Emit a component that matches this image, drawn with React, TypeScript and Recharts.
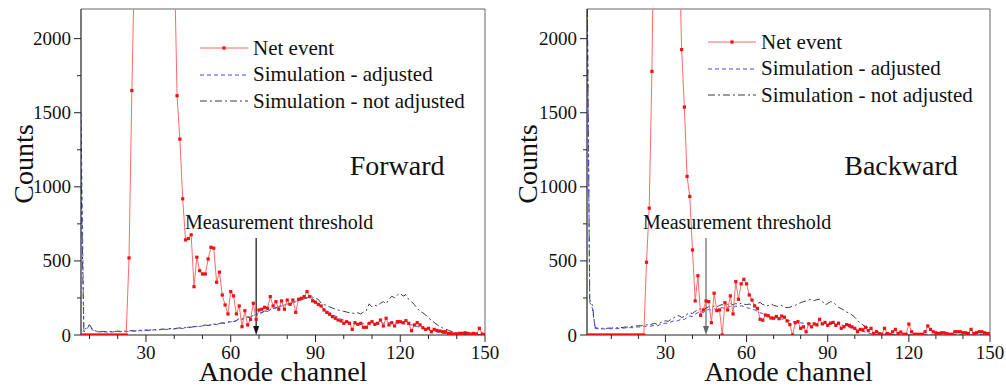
import React from "react";
import {
  LineChart,
  Line,
  XAxis,
  YAxis,
  ReferenceLine,
  ReferenceDot,
  Legend,
  Label,
} from "recharts";

// channel numbers of the first value in each array
const FWD_START = 7;
const BWD_START = 1;

// Forward panel, ch 7..150
const fwdNet = [
  0, 0, 0, 0, 0, 0, 0, 0, 0, 0, 0, 0, 0, 0, 0, 0, 0,
  520, 1650, 2570, 3500, 4300, 4800, 5000, 5000, 4800, 4500, 4100, 3700, 3300, 3000, 2800, 2700, 2590,
  1615, 1322, 919, 642, 651, 676, 326, 525, 434, 412, 412, 513, 592, 586, 356, 424, 270, 203, 142,
  293, 264, 142, 196, 56, 164, 68, 106, 214, 106, 169, 174, 187, 180, 259, 196, 225,
  174, 230, 174, 236, 207, 236, 153, 241, 248, 259, 293, 259, 230, 221, 207, 196, 169, 153, 140, 124,
  113, 101, 95, 79, 90, 79, 38, 83, 72, 79, 52, 52, 79, 90, 72, 79, 101, 61, 113, 68,
  83, 61, 90, 90, 83, 97, 79, 29, 68, 83, 68, 49, 38, 45, 22, 38, 31, 27, 22, 22,
  11, 11, 7, 7, 11, 11, 15, 11, 7, 11, 7, 45, 7, 3,
];
const fwdSimAdj = [
  1500, 20, 40, 65, 35, 25, 22, 20, 22, 20,
  22, 20, 22, 24, 22, 25, 24, 26, 28, 25,
  28, 30, 28, 32, 30, 33, 35, 33, 36, 38,
  36, 40, 42, 40, 44, 46, 44, 48, 52, 50,
  55, 58, 56, 62, 65, 63, 68, 72, 70, 76,
  80, 78, 85, 90, 88, 96, 110, 105, 115, 120,
  118, 130, 140, 145, 150, 160, 158, 170, 178, 182,
  190, 196, 200, 210, 206, 218, 224, 230, 236, 242,
  250, 258, 245, 225, 200, 190, 178, 165, 150, 138,
  128, 118, 108, 100, 92, 86, 80, 76, 74, 72,
  76, 74, 78, 80, 78, 82, 84, 80, 82, 84,
  80, 82, 78, 80, 76, 74, 70, 68, 62, 58,
  52, 46, 40, 34, 28, 24, 20, 16, 12, 10,
  8, 6, 5, 4, 3, 3, 2, 2, 2, 1,
  1, 1, 1, 0,
];
const fwdSimNot = [
  1100, 30, 50, 70, 40, 28, 24, 22, 24, 22,
  24, 22, 24, 26, 24, 27, 26, 28, 30, 27,
  30, 32, 30, 34, 32, 35, 37, 35, 38, 40,
  38, 42, 44, 42, 46, 48, 46, 50, 54, 52,
  57, 60, 58, 64, 67, 65, 70, 74, 72, 78,
  82, 80, 87, 92, 90, 98, 112, 107, 117, 122,
  120, 132, 142, 147, 152, 162, 160, 172, 180, 184,
  192, 198, 202, 212, 208, 220, 226, 232, 238, 244,
  252, 262, 255, 248, 240, 215, 205, 200, 190, 182,
  175, 168, 165, 160, 155, 150, 148, 145, 150, 142,
  155, 165, 210, 190, 200, 195, 215, 225, 210, 240,
  262, 250, 270, 282, 262, 272, 240, 225, 205, 180,
  160, 150, 135, 115, 100, 85, 70, 58, 48, 40,
  32, 25, 20, 14, 10, 7, 5, 3, 2, 1,
  1, 1, 0, 0,
];

// Backward panel, ch 1..150
const bwdNet = [
  0, 0, 0, 0, 0, 0, 0, 0, 0, 0,
  0, 0, 0, 0, 0, 0, 0, 0, 0, 0,
  0, 0, 491, 856, 1779, 3200, 4200, 5000, 5400, 5500,
  5300, 4900, 4300, 3600, 2650, 1926, 1538, 1070, 935, 574,
  230, 400, 133, 169, 230, 225, 83, 282, 164, 169,
  0, 218, 169, 264, 142, 360, 241, 345, 376, 345,
  270, 236, 196, 180, 106, 100, 135, 130, 115, 113,
  125, 110, 128, 120, 95, 70, 0, 83, 90, 45,
  55, 22, 75, 55, 75, 68, 106, 75, 85, 65,
  80, 85, 65, 80, 45, 55, 70, 65, 55, 45,
  22, 38, 35, 52, 30, 45, 10, 22, 5, 5,
  45, 10, 5, 22, 38, 10, 20, 5, 5, 74,
  22, 5, 5, 5, 5, 22, 61, 38, 22, 15,
  10, 15, 15, 10, 5, 5, 22, 22, 22, 15,
  15, 10, 38, 10, 15, 22, 22, 15, 10, 10,
];
const bwdSimAdj = [
  2500, 220, 180, 45, 42, 40, 42, 40, 43, 42,
  45, 43, 46, 45, 48, 47, 50, 49, 52, 55,
  53, 58, 60, 57, 62, 65, 62, 70, 75, 80,
  78, 88, 95, 92, 100, 108, 104, 120, 128, 125,
  140, 152, 160, 150, 165, 172, 168, 176, 172, 180,
  185, 178, 188, 192, 185, 195, 190, 198, 192, 185,
  180, 175, 170, 160, 150, 145, 140, 130, 125, 118,
  115, 110, 108, 104, 100, 96, 90, 88, 84, 82,
  80, 78, 80, 76, 78, 75, 78, 74, 76, 75,
  74, 72, 74, 70, 68, 64, 58, 52, 46, 42,
  36, 30, 24, 20, 14, 8, 5, 3, 2, 1,
  1, 0, 0, 0, 0, 0, 0, 0, 0, 0,
  0, 0, 0, 0, 0, 0, 0, 0, 0, 0,
  0, 0, 0, 0, 0, 0, 0, 0, 0, 0,
  0, 0, 0, 0, 0, 0, 0, 0, 0, 0,
];
const bwdSimNot = [
  2500, 240, 200, 50, 46, 44, 46, 44, 47, 46,
  50, 48, 52, 50, 54, 53, 57, 56, 60, 63,
  62, 66, 70, 66, 74, 78, 72, 82, 90, 96,
  92, 105, 115, 128, 130, 118, 125, 140, 150, 145,
  160, 172, 178, 168, 182, 190, 185, 195, 188, 200,
  205, 196, 208, 214, 204, 212, 206, 215, 208, 205,
  209, 198, 205, 212, 220, 205, 203, 198, 210, 200,
  195, 191, 200, 188, 185, 187, 195, 200, 210, 218,
  225, 230, 236, 241, 232, 238, 241, 228, 203, 212,
  225, 222, 205, 187, 178, 168, 155, 147, 135, 120,
  100, 79, 68, 55, 50, 42, 38, 28, 18, 11,
  8, 5, 3, 2, 1, 0, 0, 0, 0, 0,
  0, 0, 0, 0, 0, 0, 0, 0, 0, 0,
  0, 0, 0, 0, 0, 0, 0, 0, 0, 0,
  0, 0, 0, 0, 0, 0, 0, 0, 0, 0,
];

const yTicks = [0, 250, 500, 750, 1000, 1250, 1500, 1750, 2000];
const xTicks = [10, 20, 30, 40, 50, 60, 70, 80, 90, 100, 110, 120, 130, 140, 150];
const Y_MAX = 2200;

const seriesNames = ["Net event", "Simulation - adjusted", "Simulation - not adjusted"];

const FONT = '"Liberation Serif", "Times New Roman", serif';
const RED_LINE = "#ff6a6a";
const RED_DOT = "#ee1111";
const BLUE = "#4545ee";
const BLACK = "#3a3a3a";

const buildRows = (start: number, net: number[], adj: number[], not: number[]) =>
  net.map((v, i) => ({ ch: start + i, net: v, adj: adj[i], not: not[i] }));

const XTick = (p: any) => {
  const v = p.payload.value;
  const major = v % 30 === 0;
  return (
    <g>
      <line x1={p.x} x2={p.x} y1={p.y} y2={p.y + (major ? 7 : 4)} stroke="#222" />
      {major && (
        <text x={p.x} y={p.y + 24} textAnchor="middle" fontFamily={FONT} fontSize={19} fill="#111">
          {v}
        </text>
      )}
    </g>
  );
};

const YTick = (p: any) => {
  const v = p.payload.value;
  const major = v % 500 === 0;
  return (
    <g>
      <line x1={p.x - (major ? 7 : 4)} x2={p.x} y1={p.y} y2={p.y} stroke="#222" />
      {major && (
        <text x={p.x - 10} y={p.y + 6.5} textAnchor="end" fontFamily={FONT} fontSize={19} fill="#111">
          {v}
        </text>
      )}
    </g>
  );
};

const squareDot = (p: any) => (
  <rect key={`d-${p.index}`} x={p.cx - 1.6} y={p.cy - 1.6} width={3.2} height={3.2} fill={RED_DOT} />
);

const LegendRows = () => (
  <div style={{ fontFamily: FONT, fontSize: 21, color: "#111" }}>
    {seriesNames.map((name, i) => (
      <div key={name} style={{ display: "flex", alignItems: "center", height: 26.5, whiteSpace: "nowrap" }}>
        <svg width={50} height={10} style={{ overflow: "visible" }}>
          {i === 0 && (
            <>
              <line x1={0} x2={48} y1={5} y2={5} stroke={RED_LINE} />
              <rect x={22.4} y={3.4} width={3.2} height={3.2} fill={RED_DOT} />
            </>
          )}
          {i === 1 && <line x1={0} x2={48} y1={5} y2={5} stroke={BLUE} strokeDasharray="4 3" />}
          {i === 2 && <line x1={0} x2={48} y1={5} y2={5} stroke={BLACK} strokeDasharray="7 3 2 3" />}
        </svg>
        <span style={{ marginLeft: 3 }}>{name}</span>
      </div>
    ))}
  </div>
);

type PanelProps = {
  rows: { ch: number; net: number; adj: number; not: number }[];
  xMin: number;
  title: string;
  titleAt: [number, number];
  threshold: number;
  noteAt: [number, number];
  arrowColor: string;
  legendPos: { left: number; top: number };
  marginRight: number;
  yLabelX: number;
};

function Panel(props: PanelProps) {
  const { rows, xMin, title, titleAt, threshold, noteAt, arrowColor, legendPos, marginRight, yLabelX } = props;
  return (
    <LineChart width={500} height={388} data={rows} margin={{ top: 9, right: marginRight, left: 21, bottom: 23 }}>
      <XAxis
        dataKey="ch"
        type="number"
        domain={[xMin, 150]}
        ticks={xTicks}
        allowDataOverflow
        interval={0}
        tickSize={0}
        tickMargin={0}
        tickLine={false}
        tick={XTick}
        height={30}
        stroke="#222"
        strokeWidth={1.2}
      >
        <Label
          content={(lp: any) => (
            <text
              x={lp.viewBox.x + lp.viewBox.width / 2}
              y={381}
              textAnchor="middle"
              fontFamily={FONT}
              fontSize={28}
              fill="#111"
            >
              Anode channel
            </text>
          )}
        />
      </XAxis>
      <YAxis
        type="number"
        domain={[0, Y_MAX]}
        ticks={yTicks}
        allowDataOverflow
        interval={0}
        tickSize={0}
        tickMargin={0}
        tickLine={false}
        tick={YTick}
        width={60}
        stroke="#222"
        strokeWidth={1.2}
      >
        <Label
          content={() => (
            <text
              x={yLabelX}
              y={164}
              transform={`rotate(-90 ${yLabelX} 164)`}
              textAnchor="middle"
              fontFamily={FONT}
              fontSize={28}
              fill="#111"
            >
              Counts
            </text>
          )}
        />
      </YAxis>
      <ReferenceLine y={Y_MAX} stroke="#666" />
      <ReferenceLine x={150} stroke="#666" />
      <ReferenceLine
        segment={[
          { x: threshold, y: 0 },
          { x: threshold, y: 655 },
        ]}
        shape={(sp: any) => {
          const top = Math.min(sp.y1, sp.y2);
          const bottom = Math.max(sp.y1, sp.y2);
          const x = sp.x1;
          return (
            <g>
              <line x1={x} x2={x} y1={top} y2={bottom - 6} stroke={arrowColor} strokeWidth={1.2} />
              <polygon points={`${x - 3},${bottom - 9} ${x + 3},${bottom - 9} ${x},${bottom}`} fill={arrowColor} />
            </g>
          );
        }}
      />
      <ReferenceDot
        x={noteAt[0]}
        y={noteAt[1]}
        shape={(sp: any) => (
          <text x={sp.cx} y={sp.cy} textAnchor="start" fontFamily={FONT} fontSize={20} fill="#111">
            Measurement threshold
          </text>
        )}
      />
      <ReferenceDot
        x={titleAt[0]}
        y={titleAt[1]}
        shape={(sp: any) => (
          <text x={sp.cx} y={sp.cy} textAnchor="middle" fontFamily={FONT} fontSize={28} fill="#111">
            {title}
          </text>
        )}
      />
      <Line
        type="linear"
        dataKey="not"
        stroke={BLACK}
        strokeWidth={1}
        strokeDasharray="7 3 2 3"
        dot={false}
        isAnimationActive={false}
      />
      <Line
        type="linear"
        dataKey="adj"
        stroke={BLUE}
        strokeWidth={1}
        strokeDasharray="4 3"
        dot={false}
        isAnimationActive={false}
      />
      <Line
        type="linear"
        dataKey="net"
        stroke={RED_LINE}
        strokeWidth={1}
        dot={squareDot}
        isAnimationActive={false}
      />
      <Legend
        layout="vertical"
        align="center"
        verticalAlign="middle"
        content={() => <LegendRows />}
        wrapperStyle={{ position: "absolute", left: legendPos.left, top: legendPos.top, width: 300, height: 80 }}
      />
    </LineChart>
  );
}

const fwdRows = buildRows(FWD_START, fwdNet, fwdSimAdj, fwdSimNot);
const bwdRows = buildRows(BWD_START, bwdNet, bwdSimAdj, bwdSimNot);

export default function App() {
  return (
    <div style={{ position: "fixed", left: 0, top: 0, width: 1006, height: 388, background: "#fff" }}>
      <div style={{ position: "absolute", left: 0, top: 0 }}>
        <Panel
          rows={fwdRows}
          xMin={FWD_START}
          title="Forward"
          titleAt={[118.9, 1081]}
          threshold={69}
          noteAt={[43.8, 716]}
          arrowColor="#111"
          legendPos={{ left: 200, top: 35 }}
          marginRight={15}
          yLabelX={33}
        />
      </div>
      <div style={{ position: "absolute", left: 506, top: 0 }}>
        <Panel
          rows={bwdRows}
          xMin={BWD_START}
          title="Backward"
          titleAt={[117.1, 1081]}
          threshold={45}
          noteAt={[21.7, 716]}
          arrowColor="#666"
          legendPos={{ left: 202, top: 29 }}
          marginRight={16}
          yLabelX={31}
        />
      </div>
    </div>
  );
}
